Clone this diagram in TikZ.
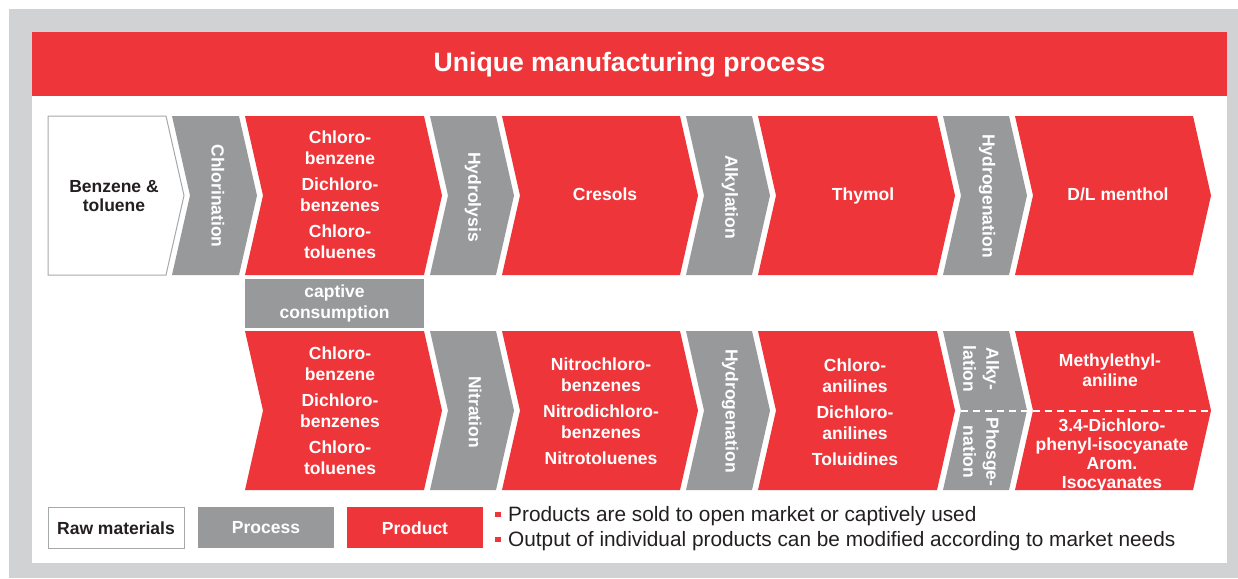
\documentclass[tikz,border=0pt]{standalone}
\usepackage{fontspec}
\setmainfont{Liberation Sans}
\definecolor{bred}{HTML}{EE3539}
\definecolor{pgray}{HTML}{98999B}
\definecolor{fgray}{HTML}{D1D2D4}
\definecolor{bgray}{HTML}{A7A8AA}
\definecolor{tdark}{HTML}{231F20}
\tikzset{
  prodshape/.style={fill=bred},
  procshape/.style={fill=pgray},
  rawshape/.style={fill=white, draw=bgray, line width=1pt},
  lbl/.style={text=white, font={\bfseries\fontsize{17.5}{21}\selectfont}, align=center, inner sep=0pt},
  vlbl/.style={lbl, rotate=-90},
  darklbl/.style={lbl, text=tdark},
  legtext/.style={text=tdark, font={\fontsize{20.8}{24}\selectfont}, anchor=base west, inner sep=0pt},
  splitline/.style={draw=white, line width=2pt, dash pattern=on 7pt off 5pt},
}
% #1 style, #2 left x, #3 right x, #4 top y, #5 bottom y, #6 notch depth
\newcommand\chev[6]{\path[#1] (#2,#4) -- (#3,#4) -- ({#3+18},{(#4+#5)/2}) -- (#3,#5) -- (#2,#5) -- ({#2+#6},{(#4+#5)/2}) -- cycle;}
\begin{document}
\begin{tikzpicture}[x=1pt,y=-1pt]
\useasboundingbox (0,0) rectangle (1238,578);
\fill[white] (0,0) rectangle (1238,578);
% frame and panel
\fill[fgray] (9,9) rectangle (1238,578);
\fill[white] (32,32) rectangle (1227,563);
\fill[bred] (32,32) rectangle (1227,95.5);
\node[lbl, font={\bfseries\fontsize{26.6}{30}\selectfont}, anchor=base] (title) at (629.5,71.7) {Unique manufacturing process};

% ---- row 1 ----
\chev{rawshape}{48}{166}{116}{275}{0}
\chev{procshape}{172}{239}{116}{275}{18}
\chev{prodshape}{245}{424}{116}{275}{18}
\chev{procshape}{430}{496}{116}{275}{18}
\chev{prodshape}{502}{680}{116}{275}{18}
\chev{procshape}{686}{752}{116}{275}{18}
\chev{prodshape}{758}{937}{116}{275}{18}
\chev{procshape}{943}{1009}{116}{275}{18}
\chev{prodshape}{1015}{1193}{116}{275}{18}

\node[darklbl, font={\bfseries\fontsize{17.5}{19}\selectfont}] (raw) at (114,196) {Benzene \&\\toluene};
\node[vlbl] (chlor) at (218,196) {Chlorination};
\node[lbl] (p1) at (340,195) {Chloro-\\benzene\\[5pt]Dichloro-\\benzenes\\[5pt]Chloro-\\toluenes};
\node[vlbl] (hydrol) at (473,197) {Hydrolysis};
\node[lbl, anchor=base] (cresols) at (605,200) {Cresols};
\node[vlbl] (alkyl) at (730,197) {Alkylation};
\node[lbl, anchor=base] (thymol) at (863,200) {Thymol};
\node[vlbl] (hydrog1) at (987,196) {Hydrogenation};
\node[lbl, anchor=base] (menthol) at (1118,200) {D/L menthol};

% captive consumption
\fill[pgray] (245,279) rectangle (424,328);
\node[lbl] (captive) at (334.5,303.5) {captive\\consumption};

% ---- row 2 ----
\chev{prodshape}{245}{424}{331}{490}{18}
\chev{procshape}{430}{496}{331}{490}{18}
\chev{prodshape}{502}{680}{331}{490}{18}
\chev{procshape}{686}{752}{331}{490}{18}
\chev{prodshape}{758}{937}{331}{490}{18}
\chev{procshape}{943}{1009}{331}{490}{18}
\chev{prodshape}{1015}{1193}{331}{490}{18}

\node[lbl] (p2) at (340,411) {Chloro-\\benzene\\[5pt]Dichloro-\\benzenes\\[5pt]Chloro-\\toluenes};
\node[vlbl] (nitr) at (475,412) {Nitration};
\node[lbl] (nitro) at (601,411) {Nitrochloro-\\benzenes\\[5pt]Nitrodichloro-\\benzenes\\[5pt]Nitrotoluenes};
\node[vlbl] (hydrog2) at (730,411) {Hydrogenation};
\node[lbl] (anil) at (855,412) {Chloro-\\anilines\\[5pt]Dichloro-\\anilines\\[5pt]Toluidines};
\node[vlbl, font={\bfseries\fontsize{17.5}{23}\selectfont}] (alky) at (981,369) {Alky-\\lation};
\node[vlbl, font={\bfseries\fontsize{17.5}{23}\selectfont}] (phos) at (981,452) {Phosge-\\nation};
\node[lbl, font={\bfseries\fontsize{17.5}{20}\selectfont}] (mea) at (1110,370) {Methylethyl-\\aniline};
\node[lbl, font={\bfseries\fontsize{17.5}{19}\selectfont}] (iso) at (1112,455) {3.4-Dichloro-\\phenyl-isocyanate\\Arom.\\Isocyanates};
\coordinate (splitA) at (961,410.5);
\coordinate (splitB) at (1211,410.5);
\draw[splitline] (splitA) -- (splitB);

% ---- legend ----
\node[draw=bgray, line width=1pt, fill=white, minimum width=136pt, minimum height=41pt, inner sep=0pt, text=tdark, font={\bfseries\fontsize{17.5}{21}\selectfont}] (legraw) at (116,527.75) {Raw materials};
\node[fill=pgray, minimum width=136pt, minimum height=41pt, inner sep=0pt, text=white, font={\bfseries\fontsize{17.5}{21}\selectfont}] (legproc) at (266,527.75) {Process};
\node[fill=bred, minimum width=136pt, minimum height=41pt, inner sep=0pt, text=white, font={\bfseries\fontsize{17.5}{21}\selectfont}] (legprod) at (415,527.75) {Product};
\fill[bred] (495,511.5) rectangle (500.5,517);
\fill[bred] (495,536.5) rectangle (500.5,542);
\node[legtext] (note1) at (508,521.7) {Products are sold to open market or captively used};
\node[legtext] (note2) at (508,546.7) {Output of individual products can be modified according to market needs};
\end{tikzpicture}
\end{document}
